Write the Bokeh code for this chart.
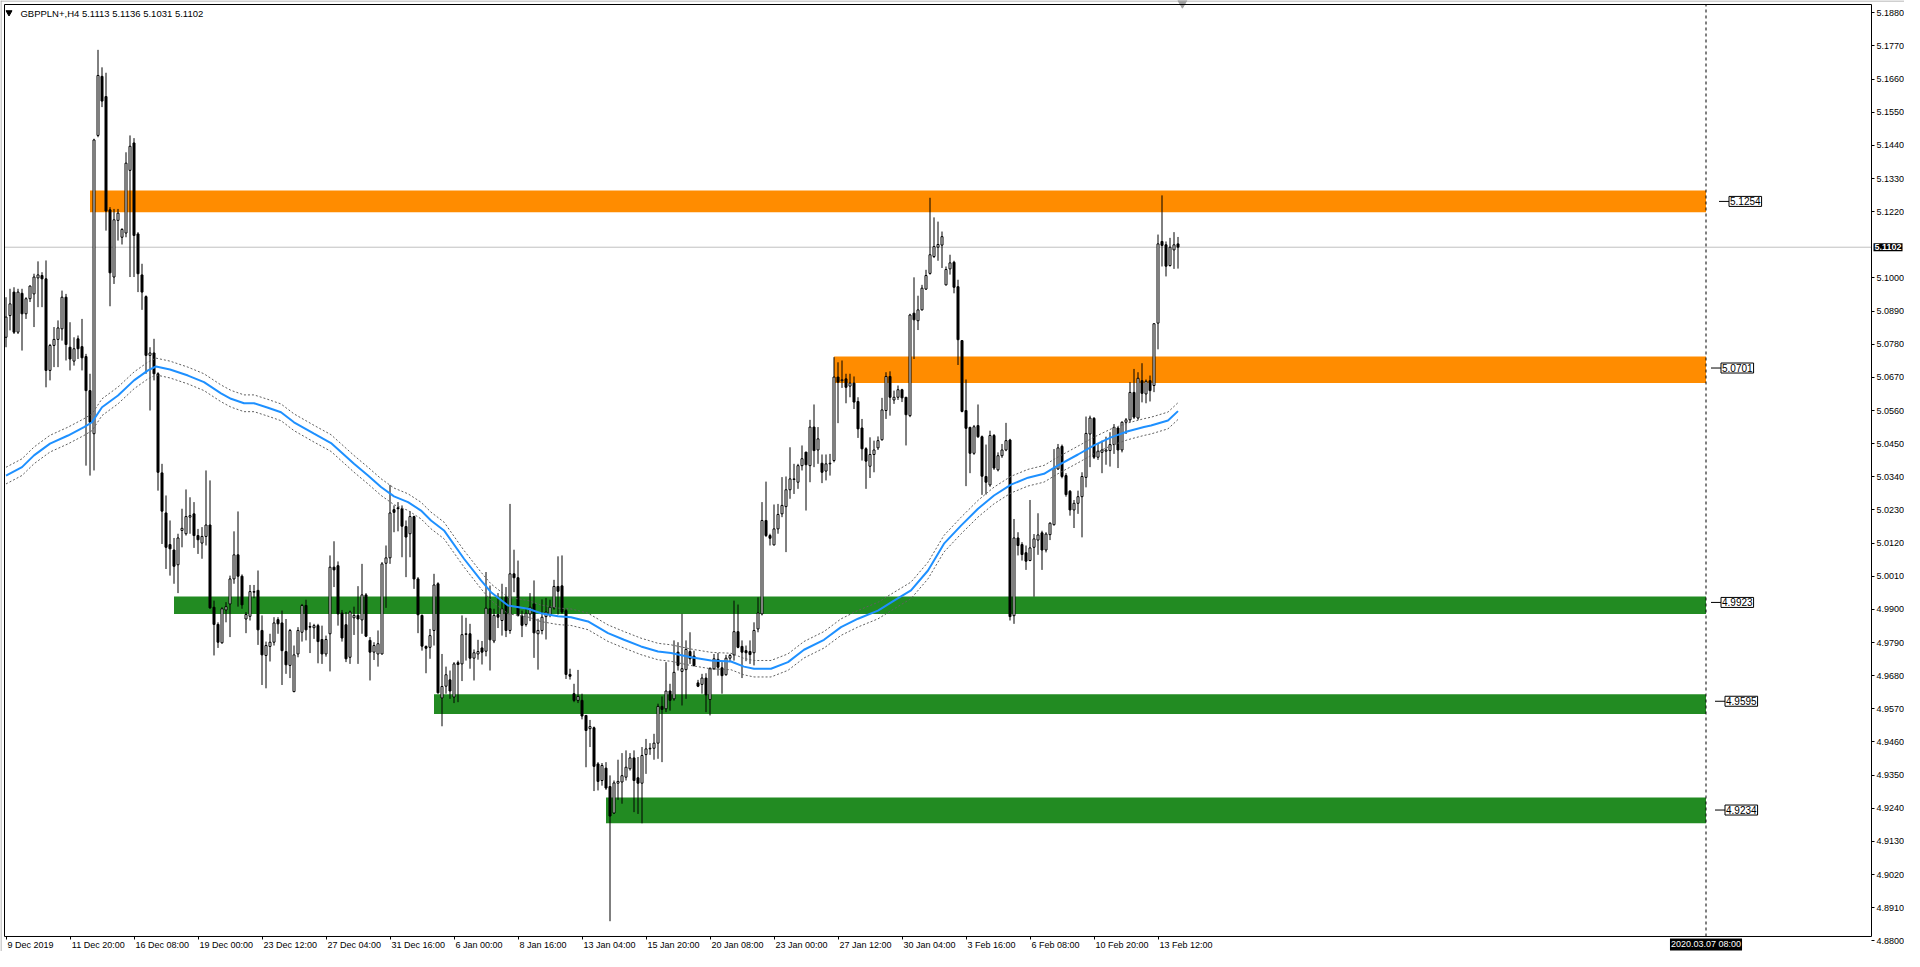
from bokeh.plotting import figure
from bokeh.models import Range1d, FixedTicker, PrintfTickFormatter, Label, ColumnDataSource, LinearAxis
from bokeh.embed import file_html
from bokeh.resources import INLINE

# ---------------- data (GBPPLN+, H4) ----------------
symbol = "GBPPLN+,H4"
last_ohlc = [5.1113, 5.1136, 5.1031, 5.1102]

opens = [
    5.0803, 5.0875, 5.0953, 5.0820, 5.0949, 5.0881, 5.0931, 5.0947, 5.1000, 5.1008,
    5.0997, 5.0693, 5.0776, 5.0796, 5.0831, 5.0936, 5.0770, 5.0724, 5.0798, 5.0772,
    5.0739, 5.0626, 5.0483, 5.1473, 5.1669, 5.1602, 5.1226, 5.1003, 5.1191, 5.1135,
    5.1149, 5.1357, 5.1448, 5.1146, 5.1010, 5.0938, 5.0743, 5.0751, 5.0682,
    5.0353, 5.0220, 5.0115, 5.0097, 5.0048, 5.0162, 5.0151, 5.0206, 5.0217, 5.0145, 5.0120,
    5.0142, 5.0180, 4.9907, 4.9850, 4.9789, 4.9898, 4.9918, 5.0001, 5.0081, 5.0010,
    4.9868, 4.9877, 4.9957, 4.9963, 4.9830, 4.9747, 4.9777, 4.9791, 4.9866, 4.9855,
    4.9760, 4.9714, 4.9627, 4.9752, 4.9824, 4.9913, 4.9843, 4.9839, 4.9846, 4.9800,
    4.9752, 4.9819, 5.0040, 5.0045, 4.9888, 4.9849, 4.9741, 4.9872, 4.9880, 4.9865,
    4.9948, 4.9797, 4.9758, 4.9752, 4.9752, 5.0053, 5.0071, 5.0231, 5.0237, 5.0234,
    5.0175, 5.0151, 5.0208, 5.0001, 4.9880, 4.9777, 4.9774,
    4.9830, 4.9985, 4.9606, 4.9645, 4.9666, 4.9609, 4.9723, 4.9719, 4.9817, 4.9819,
    4.9738, 4.9752, 4.9772, 4.9761, 4.9902, 4.9795, 4.9883, 4.9863, 4.9941, 4.9830,
    5.0018, 5.0005, 4.9878, 4.9850, 4.9885, 4.9918, 4.9819, 4.9830, 4.9876, 4.9882,
    4.9905, 4.9976, 4.9978, 4.9896, 4.9684, 4.9620, 4.9598, 4.9598, 4.9548, 4.9504,
    4.9507, 4.9387, 4.9332, 4.9373, 4.9312, 4.9224, 4.9323, 4.9327, 4.9343, 4.9371,
    4.9407, 4.9341, 4.9323, 4.9418, 4.9437, 4.9439, 4.9456, 4.9578, 4.9570, 4.9629,
    4.9603, 4.9758, 4.9694, 4.9700, 4.9760, 4.9745, 4.9656, 4.9651, 4.9672, 4.9601,
    4.9703, 4.9734, 4.9706, 4.9683, 4.9738, 4.9749, 4.9826, 4.9777, 4.9763, 4.9760,
    4.9756, 4.9835, 4.9885, 5.0195, 5.0145, 5.0114, 5.0167, 5.0217, 5.0241, 5.0297,
    5.0331, 5.0322, 5.0377, 5.0422, 5.0377, 5.0505, 5.0429, 5.0385, 5.0359, 5.0383,
    5.0394, 5.0671, 5.0659, 5.0665, 5.0641, 5.0651, 5.0590, 5.0502, 5.0433, 5.0375,
    5.0414, 5.0436, 5.0463, 5.0560, 5.0673, 5.0595, 5.0604, 5.0629, 5.0604, 5.0543,
    5.0883, 5.0858, 5.0894, 5.0963, 5.1015, 5.1071, 5.1102, 5.1109, 5.0977, 5.1030,
    5.1052, 5.0971, 5.0792, 5.0560, 5.0504, 5.0418, 5.0510, 5.0473, 5.0341, 5.0313,
    5.0477, 5.0363, 5.0410, 5.0429, 5.0462, 4.9879, 5.0137, 5.0115, 5.0088, 5.0062,
    5.0106, 5.0130, 5.0154, 5.0097, 5.0148, 5.0181, 5.0366, 5.0441, 5.0344, 5.0292,
    5.0230, 5.0252, 5.0274, 5.0338, 5.0482, 5.0534, 5.0405, 5.0421, 5.0425, 5.0427,
    5.0447, 5.0502, 5.0429, 5.0521, 5.0529, 5.0620, 5.0535, 5.0659, 5.0615, 5.0659,
    5.0643, 5.0850, 5.1121, 5.1110, 5.1041, 5.1093, 5.1113,
]

closes = [
    5.0870, 5.0914, 5.0820, 5.0953, 5.0881, 5.0931, 5.0973, 5.1003, 5.1010, 5.0997,
    5.0693, 5.0776, 5.0796, 5.0834, 5.0936, 5.0779, 5.0731, 5.0765, 5.0765, 5.0735,
    5.0626, 5.0521, 5.1458, 5.1672, 5.1587, 5.1222, 5.1017, 5.1193, 5.1215, 5.1161,
    5.1381, 5.1437, 5.1141, 5.1014, 5.0953, 5.0743, 5.0751, 5.0682, 5.0355,
    5.0226, 5.0106, 5.0101, 5.0043, 5.0137, 5.0169, 5.0208, 5.0211, 5.0145, 5.0131, 5.0142,
    5.0180, 4.9905, 4.9850, 4.9791, 4.9902, 4.9909, 5.0001, 5.0081, 5.0010, 4.9915,
    4.9883, 4.9959, 4.9959, 4.9832, 4.9749, 4.9780, 4.9791, 4.9855, 4.9852, 4.9763,
    4.9716, 4.9830, 4.9749, 4.9830, 4.9913, 4.9832, 4.9841, 4.9846, 4.9793, 4.9752,
    4.9800, 5.0040, 5.0031, 4.9885, 4.9805, 4.9736, 4.9891, 4.9880, 4.9868, 4.9948,
    4.9811, 4.9758, 4.9780, 4.9786, 5.0051, 5.0071, 5.0220, 5.0222, 5.0234, 5.0176,
    5.0140, 5.0208, 5.0001, 4.9882, 4.9778, 4.9771, 4.9813,
    4.9981, 4.9623, 4.9644, 4.9683, 4.9629, 4.9719, 4.9717, 4.9816, 4.9819, 4.9738,
    4.9756, 4.9760, 4.9758, 4.9904, 4.9799, 4.9880, 4.9874, 4.9902, 4.9830, 5.0018,
    5.0005, 4.9880, 4.9847, 4.9887, 4.9907, 4.9822, 4.9830, 4.9874, 4.9891, 4.9907,
    4.9976, 4.9960, 4.9891, 4.9684, 4.9678, 4.9598, 4.9611, 4.9546, 4.9498, 4.9511,
    4.9379, 4.9329, 4.9382, 4.9307, 4.9214, 4.9324, 4.9329, 4.9348, 4.9376, 4.9407,
    4.9332, 4.9323, 4.9415, 4.9437, 4.9439, 4.9456, 4.9578, 4.9568, 4.9629, 4.9598,
    4.9691, 4.9714, 4.9703, 4.9767, 4.9736, 4.9714, 4.9645, 4.9672, 4.9616, 4.9703,
    4.9736, 4.9708, 4.9680, 4.9738, 4.9747, 4.9826, 4.9774, 4.9758, 4.9756, 4.9750,
    4.9830, 4.9888, 5.0195, 5.0145, 5.0136, 5.0167, 5.0215, 5.0245, 5.0297, 5.0333,
    5.0333, 5.0377, 5.0400, 5.0380, 5.0505, 5.0427, 5.0466, 5.0355, 5.0383, 5.0385,
    5.0671, 5.0654, 5.0662, 5.0637, 5.0651, 5.0588, 5.0499, 5.0433, 5.0392, 5.0414,
    5.0429, 5.0460, 5.0562, 5.0673, 5.0604, 5.0604, 5.0629, 5.0602, 5.0546, 5.0877,
    5.0861, 5.0894, 5.0966, 5.1008, 5.1077, 5.1104, 5.1111, 5.1137, 5.1028, 5.1050,
    5.0969, 5.0795, 5.0557, 5.0501, 5.0418, 5.0506, 5.0473, 5.0342, 5.0322, 5.0477,
    5.0369, 5.0410, 5.0429, 5.0460, 4.9876, 5.0137, 5.0112, 5.0082, 5.0060, 5.0104,
    5.0134, 5.0147, 5.0097, 5.0150, 5.0186, 5.0369, 5.0436, 5.0341, 5.0281, 5.0230,
    5.0252, 5.0274, 5.0341, 5.0484, 5.0535, 5.0405, 5.0425, 5.0429, 5.0429, 5.0447,
    5.0504, 5.0429, 5.0521, 5.0529, 5.0620, 5.0538, 5.0667, 5.0617, 5.0657, 5.0626,
    5.0848, 5.1113, 5.1108, 5.1039, 5.1102, 5.1110, 5.1102,
]

highs = [
    5.0936, 5.0964, 5.0969, 5.0964, 5.0964, 5.0936, 5.0975, 5.1014, 5.1055, 5.1019,
    5.1058, 5.0781, 5.0837, 5.0859, 5.0958, 5.0947, 5.0853, 5.0803, 5.0809, 5.0864,
    5.0748, 5.0682, 5.1462, 5.1757, 5.1699, 5.1681, 5.1235, 5.1229, 5.1229, 5.1165,
    5.1417, 5.1473, 5.1464, 5.1152, 5.1047, 5.0942, 5.0770, 5.0798, 5.0687,
    5.0383, 5.0278, 5.0195, 5.0137, 5.0151, 5.0234, 5.0298, 5.0272, 5.0256, 5.0167, 5.0173,
    5.0361, 5.0328, 4.9929, 4.9857, 4.9907, 4.9924, 5.0012, 5.0159, 5.0225, 5.0016,
    4.9891, 4.9981, 4.9981, 5.0029, 4.9880, 4.9793, 4.9819, 4.9874, 4.9874, 4.9896,
    4.9868, 4.9835, 4.9780, 4.9841, 4.9918, 4.9932, 4.9857, 4.9852, 4.9852, 4.9846,
    4.9813, 5.0079, 5.0126, 5.0059, 4.9898, 4.9891, 4.9896, 4.9909, 4.9977, 5.0051,
    4.9954, 4.9808, 4.9791, 4.9830, 5.0057, 5.0112, 5.0313, 5.0245, 5.0256, 5.0245,
    5.0195, 5.0226, 5.0211, 5.0007, 4.9883, 4.9780, 4.9835,
    5.0018, 4.9990, 4.9752, 4.9710, 4.9697, 4.9725, 4.9730, 4.9880, 4.9872, 4.9852,
    4.9767, 4.9799, 4.9795, 5.0024, 4.9979, 4.9902, 4.9954, 4.9985, 4.9974, 5.0250,
    5.0098, 5.0062, 4.9896, 4.9905, 4.9954, 4.9996, 4.9869, 4.9933, 4.9938, 4.9932,
    4.9998, 5.0076, 5.0079, 4.9902, 4.9703, 4.9653, 4.9699, 4.9620, 4.9548, 4.9533,
    4.9511, 4.9393, 4.9390, 4.9393, 4.9349, 4.9332, 4.9401, 4.9423, 4.9432, 4.9423,
    4.9432, 4.9410, 4.9443, 4.9470, 4.9456, 4.9487, 4.9587, 4.9611, 4.9725, 4.9653,
    4.9797, 4.9791, 4.9885, 4.9797, 4.9824, 4.9763, 4.9666, 4.9686, 4.9688, 4.9708,
    4.9752, 4.9755, 4.9725, 4.9749, 4.9752, 4.9929, 4.9916, 4.9797, 4.9780, 4.9797,
    4.9857, 4.9940, 5.0256, 5.0324, 5.0151, 5.0248, 5.0250, 5.0339, 5.0341, 5.0438,
    5.0383, 5.0383, 5.0444, 5.0422, 5.0529, 5.0580, 5.0505, 5.0414, 5.0414, 5.0416,
    5.0737, 5.0720, 5.0726, 5.0682, 5.0682, 5.0673, 5.0604, 5.0532, 5.0438, 5.0471,
    5.0460, 5.0474, 5.0602, 5.0687, 5.0690, 5.0626, 5.0643, 5.0632, 5.0604, 5.0881,
    5.1002, 5.0941, 5.0977, 5.1027, 5.1266, 5.1201, 5.1187, 5.1154, 5.1038, 5.1077,
    5.1057, 5.0994, 5.0794, 5.0663, 5.0506, 5.0512, 5.0580, 5.0477, 5.0447, 5.0493,
    5.0482, 5.0421, 5.0449, 5.0519, 5.0466, 5.0200, 5.0156, 5.0123, 5.0112, 5.0263,
    5.0150, 5.0219, 5.0161, 5.0156, 5.0189, 5.0432, 5.0449, 5.0447, 5.0352, 5.0296,
    5.0263, 5.0294, 5.0355, 5.0540, 5.0543, 5.0538, 5.0449, 5.0460, 5.0473, 5.0488,
    5.0515, 5.0506, 5.0524, 5.0535, 5.0654, 5.0698, 5.0687, 5.0717, 5.0663, 5.0676,
    5.0850, 5.1144, 5.1274, 5.1121, 5.1133, 5.1152, 5.1136,
]

lows = [
    5.0770, 5.0826, 5.0814, 5.0814, 5.0759, 5.0864, 5.0920, 5.0837, 5.0903, 5.0903,
    5.0637, 5.0660, 5.0704, 5.0704, 5.0792, 5.0726, 5.0693, 5.0709, 5.0731, 5.0693,
    5.0377, 5.0344, 5.0361, 5.1467, 5.1567, 5.1157, 5.0906, 5.0980, 5.1124, 5.1111,
    5.1135, 5.1003, 5.1003, 5.0953, 5.0894, 5.0682, 5.0560, 5.0660, 5.0294,
    5.0117, 5.0034, 5.0012, 4.9985, 4.9954, 5.0106, 5.0145, 5.0151, 5.0104, 5.0084, 5.0068,
    5.0112, 4.9902, 4.9747, 4.9772, 4.9786, 4.9857, 4.9808, 4.9985, 4.9909, 4.9902,
    4.9821, 4.9863, 4.9937, 4.9782, 4.9649, 4.9638, 4.9727, 4.9780, 4.9819, 4.9649,
    4.9686, 4.9672, 4.9625, 4.9741, 4.9793, 4.9797, 4.9755, 4.9802, 4.9721, 4.9719,
    4.9743, 4.9694, 4.9974, 4.9846, 4.9793, 4.9725, 4.9719, 4.9815, 4.9719, 4.9819,
    4.9808, 4.9664, 4.9732, 4.9710, 4.9750, 4.9905, 5.0051, 5.0156, 5.0159, 5.0073,
    5.0007, 5.0073, 4.9968, 4.9821, 4.9763, 4.9688, 4.9736,
    4.9780, 4.9620, 4.9512, 4.9620, 4.9603, 4.9589, 4.9592, 4.9662, 4.9730, 4.9703,
    4.9664, 4.9733, 4.9717, 4.9744, 4.9697, 4.9788, 4.9838, 4.9813, 4.9808, 4.9819,
    4.9957, 4.9876, 4.9808, 4.9843, 4.9861, 4.9739, 4.9700, 4.9817, 4.9800, 4.9874,
    4.9899, 4.9883, 4.9885, 4.9669, 4.9667, 4.9592, 4.9589, 4.9535, 4.9376, 4.9443,
    4.9297, 4.9299, 4.9315, 4.9301, 4.8865, 4.9221, 4.9268, 4.9255, 4.9332, 4.9365,
    4.9227, 4.9221, 4.9190, 4.9354, 4.9417, 4.9401, 4.9404, 4.9393, 4.9559, 4.9564,
    4.9597, 4.9697, 4.9581, 4.9603, 4.9719, 4.9710, 4.9642, 4.9620, 4.9559, 4.9548,
    4.9699, 4.9680, 4.9620, 4.9680, 4.9725, 4.9730, 4.9771, 4.9672, 4.9728, 4.9719,
    4.9714, 4.9824, 4.9880, 5.0140, 5.0112, 5.0112, 5.0151, 5.0206, 5.0090, 5.0267,
    5.0283, 5.0300, 5.0361, 5.0228, 5.0322, 5.0372, 5.0383, 5.0319, 5.0328, 5.0344,
    5.0388, 5.0518, 5.0635, 5.0584, 5.0604, 5.0565, 5.0469, 5.0394, 5.0300, 5.0336,
    5.0355, 5.0429, 5.0460, 5.0532, 5.0543, 5.0582, 5.0595, 5.0588, 5.0444, 5.0538,
    5.0731, 5.0827, 5.0892, 5.0960, 5.1011, 5.1066, 5.1057, 5.1033, 5.0975, 5.1011,
    5.0949, 5.0711, 5.0554, 5.0309, 5.0352, 5.0413, 5.0469, 5.0280, 5.0281, 5.0307,
    5.0363, 5.0358, 5.0403, 5.0425, 4.9863, 4.9852, 5.0079, 5.0062, 5.0031, 5.0060,
    4.9942, 5.0081, 5.0031, 5.0089, 5.0130, 5.0178, 5.0363, 5.0335, 5.0274, 5.0211,
    5.0170, 5.0217, 5.0139, 5.0305, 5.0372, 5.0399, 5.0396, 5.0352, 5.0380, 5.0374,
    5.0416, 5.0369, 5.0421, 5.0482, 5.0521, 5.0532, 5.0529, 5.0587, 5.0584, 5.0590,
    5.0621, 5.0763, 5.1038, 5.1005, 5.1038, 5.1030, 5.1031,
]

# moving average (read at sampled bars) and envelope deviation (%)
ma_bar = [0, 4, 7, 11, 15.5, 19.5, 21.5, 24, 28, 32, 35.5, 37.5, 41, 45.5, 49.5, 53.75,
          56.25, 59.5, 62, 65.5, 68.75, 72, 77, 81.25, 83.75, 87, 90.5, 93.75, 97, 100.5,
          103.75, 106.25, 109.5, 114.5, 118.75, 121.25, 125.5, 130.5, 133.75, 138, 141.25,
          145.5, 150.5, 154.5, 158.75, 163, 166.25, 171.25, 176.25, 181.25, 184.5, 187,
          191.25, 195.5, 199.5, 204.5, 208.75, 213, 218, 222, 226.25, 230.5, 234.5, 238.75,
          243, 247, 251.25, 255.5, 259.5, 263, 268, 272, 276.25, 280.5, 284.5, 286.25,
          290.5, 293]
ma_val = [5.0344, 5.0372, 5.0411, 5.0450, 5.0477, 5.0505, 5.0521, 5.0571, 5.0610, 5.0660,
          5.0693, 5.0706, 5.0696, 5.0676, 5.0654, 5.0617, 5.0599, 5.0584, 5.0584, 5.0569,
          5.0554, 5.0521, 5.0483, 5.0452, 5.0422, 5.0383, 5.0344, 5.0306, 5.0275, 5.0256,
          5.0228, 5.0195, 5.0162, 5.0068, 4.9996, 4.9957, 4.9913, 4.9902, 4.9887, 4.9877,
          4.9874, 4.9860, 4.9821, 4.9799, 4.9777, 4.9760, 4.9755, 4.9741, 4.9730, 4.9727,
          4.9710, 4.9703, 4.9703, 4.9725, 4.9766, 4.9799, 4.9841, 4.9869, 4.9896, 4.9929,
          4.9963, 5.0029, 5.0118, 5.0178, 5.0234, 5.0278, 5.0314, 5.0337, 5.0350, 5.0378,
          5.0414, 5.0444, 5.0471, 5.0491, 5.0505, 5.0510, 5.0527, 5.0558]
envelope_pct = 0.055

# support / resistance zones
zone_start = [21, 207, 42, 107, 150]
zone_low = [5.1218, 5.0651, 4.9885, 4.9553, 4.9190]
zone_high = [5.1290, 5.0739, 4.9943, 4.9618, 4.9276]
zone_level = [5.1254, 5.0701, 4.9923, 4.9595, 4.9234]
zone_kind = ["res", "res", "sup", "sup", "sup"]
zone_end = 425            # bar of the dashed time line
end_time_label = "2020.03.07 08:00"

tick_bars = list(range(0, 289, 16))
tick_labels = ["9 Dec 2019", "11 Dec 20:00", "16 Dec 08:00", "19 Dec 00:00", "23 Dec 12:00",
               "27 Dec 04:00", "31 Dec 16:00", "6 Jan 00:00", "8 Jan 16:00", "13 Jan 04:00",
               "15 Jan 20:00", "20 Jan 08:00", "23 Jan 00:00", "27 Jan 12:00", "30 Jan 04:00",
               "3 Feb 16:00", "6 Feb 08:00", "10 Feb 20:00", "13 Feb 12:00"]
price_ticks = [round(4.8800 + 0.011 * k, 4) for k in range(29)]

# ---------------- layout / styling ----------------
FONT = "Liberation Sans"
ORANGE = "#FF8C00"
GREEN = "#228B22"
BLUE = "#1E90FF"
AX_FONT_PX = 9

n = len(closes)
assert len(opens) == n and len(highs) == n and len(lows) == n

W, H = 1904, 951
PX_BAR = 4.0                 # pixels per bar
PX_PRICE = 3013.0            # pixels per price unit
# the whole canvas is the frame; the chart box and the scales are placed inside it
xr = Range1d(-1.375, -1.375 + W / PX_BAR)
yr = Range1d(5.19208 - H / PX_PRICE, 5.19208)
box_l, box_r = -0.375, 466.375            # chart box (bars)
box_t, box_b = 5.19075, 4.88143           # chart box (prices)

p = figure(width=W, height=H, output_backend="svg", toolbar_location=None,
           x_range=xr, y_range=yr, y_axis_location="right",
           min_border_left=0, min_border_top=0, min_border_right=0, min_border_bottom=0)
p.background_fill_color = "white"
p.border_fill_color = "white"
p.outline_line_color = None
p.grid.visible = False

# window edge (top / left) and the chart-shift marker
p.segment(x0=[xr.start, xr.start + 0.125], y0=[yr.end - 0.5 / PX_PRICE, yr.start],
          x1=[xr.end, xr.start + 0.125], y1=[yr.end - 0.5 / PX_PRICE, yr.end],
          line_color="#a0a0a0", line_width=1)
p.scatter([294.1], [yr.end - 2.5 / PX_PRICE], marker="inverted_triangle", size=9,
          color="#a0a0a0")

# scales, fixed at the edges of the chart box
p.yaxis.fixed_location = box_r
p.xaxis.fixed_location = box_b
p.yaxis.ticker = FixedTicker(ticks=[t for t in price_ticks if abs(t - 5.1110) > 1e-6])
p.yaxis.formatter = PrintfTickFormatter(format="%.4f")
p.xaxis.ticker = FixedTicker(ticks=tick_bars)
p.xaxis.major_label_text_alpha = 0.0          # tick marks only; labels on the axis below
for ax in (p.xaxis[0], p.yaxis[0]):
    ax.axis_line_color = None
    ax.major_tick_line_color = "black"
    ax.minor_tick_line_color = None
    ax.major_tick_in = 0
    ax.major_label_text_font = FONT
    ax.major_label_text_font_size = "%dpx" % AX_FONT_PX
    ax.major_label_text_color = "black"
p.yaxis.major_tick_out = 3
p.yaxis.major_label_standoff = 2
p.xaxis.major_tick_out = 3

# time labels start just right of their tick (MT4 style): shift each centred label
# by half of its (approximate) rendered width
CHAR_EM = {" ": 0.278, ":": 0.278, ".": 0.278, "D": 0.722, "J": 0.5, "F": 0.611,
           "e": 0.556, "c": 0.5, "a": 0.556, "n": 0.556, "b": 0.556}
def text_px(s):
    return sum(CHAR_EM.get(ch, 0.556) for ch in s) * AX_FONT_PX
lab_pos = [round(b + (text_px(s) / 2 + 1.5) / PX_BAR, 4) for b, s in zip(tick_bars, tick_labels)]
xlab = LinearAxis(fixed_location=box_b, ticker=FixedTicker(ticks=lab_pos),
                  major_label_overrides={q: s for q, s in zip(lab_pos, tick_labels)},
                  axis_line_color=None, major_tick_line_color=None, minor_tick_line_color=None,
                  major_tick_in=0, major_tick_out=3, major_label_standoff=1,
                  major_label_text_font=FONT, major_label_text_font_size="%dpx" % AX_FONT_PX,
                  major_label_text_color="black")
p.add_layout(xlab, "below")

# zones
for s, lo, hi, kind in zip(zone_start, zone_low, zone_high, zone_kind):
    p.quad(left=s, right=zone_end, bottom=lo, top=hi,
           fill_color=ORANGE if kind == "res" else GREEN, line_color=None)

# current price line + time line
p.segment(x0=box_l, y0=last_ohlc[3], x1=box_r, y1=last_ohlc[3], line_color="#c0c0c0", line_width=1)
p.segment(x0=zone_end, y0=box_b, x1=zone_end, y1=box_t, line_color="black", line_width=1,
          line_dash="3 3")

# candles
idx = list(range(n))
src = ColumnDataSource(dict(x=idx, o=opens, c=closes,
                            h=[max(a, b, c) for a, b, c in zip(highs, opens, closes)],
                            l=[min(a, b, c) for a, b, c in zip(lows, opens, closes)]))
p.segment(x0="x", y0="l", x1="x", y1="h", source=src, line_color="black", line_width=1)
bull = [i for i in idx if closes[i] >= opens[i]]
bear = [i for i in idx if closes[i] < opens[i]]
p.vbar(x=bull, width=0.5, bottom=[opens[i] for i in bull], top=[closes[i] for i in bull],
       fill_color="white", line_color="black", line_width=1)
p.vbar(x=bear, width=0.5, bottom=[closes[i] for i in bear], top=[opens[i] for i in bear],
       fill_color="black", line_color="black", line_width=1)

# moving average with envelopes
up = [v * (1 + envelope_pct / 100) for v in ma_val]
dn = [v * (1 - envelope_pct / 100) for v in ma_val]
p.line(ma_bar, up, line_color="#606060", line_width=1, line_dash="2 2")
p.line(ma_bar, dn, line_color="#606060", line_width=1, line_dash="2 2")
p.line(ma_bar, ma_val, line_color=BLUE, line_width=2)

# chart box
p.quad(left=box_l, right=box_r, top=box_t, bottom=box_b, fill_color=None,
       line_color="black", line_width=1)

# zone level labels
label_left = [430.75, 428.75, 428.75, 429.75, 429.75]
for lv, lx in zip(zone_level, label_left):
    p.segment(x0=lx - 2.5, y0=lv, x1=lx, y1=lv, line_color="black", line_width=1)
    p.add_layout(Label(x=lx, y=lv, text="%.4f" % lv, text_font=FONT, text_font_size="10px",
                       text_color="black", text_align="left", text_baseline="middle",
                       background_fill_color="white", border_line_color="black",
                       border_line_width=1, padding=1))

# header text
p.scatter([0.75], [5.1881], marker="inverted_triangle", size=6, color="black")
p.add_layout(Label(x=3.6, y=5.18776, text="%s  %.4f %.4f %.4f %.4f" % (symbol, *last_ohlc),
                   text_font=FONT, text_font_size="9.5px", text_color="black",
                   text_align="left", text_baseline="middle"))

# black boxes on the scales
p.add_layout(Label(x=box_r + 0.5, y=last_ohlc[3], text="%.4f" % last_ohlc[3],
                   text_font=FONT, text_font_size="9px", text_font_style="bold",
                   text_color="white", text_align="left", text_baseline="middle",
                   background_fill_color="black", padding=1))
p.add_layout(Label(x=zone_end, y=box_b - 8.0 / PX_PRICE, text=end_time_label,
                   text_font=FONT, text_font_size="9px",
                   text_color="white", text_align="center", text_baseline="middle",
                   background_fill_color="black", padding=1))

open("out.html", "w").write(file_html(p, INLINE))
